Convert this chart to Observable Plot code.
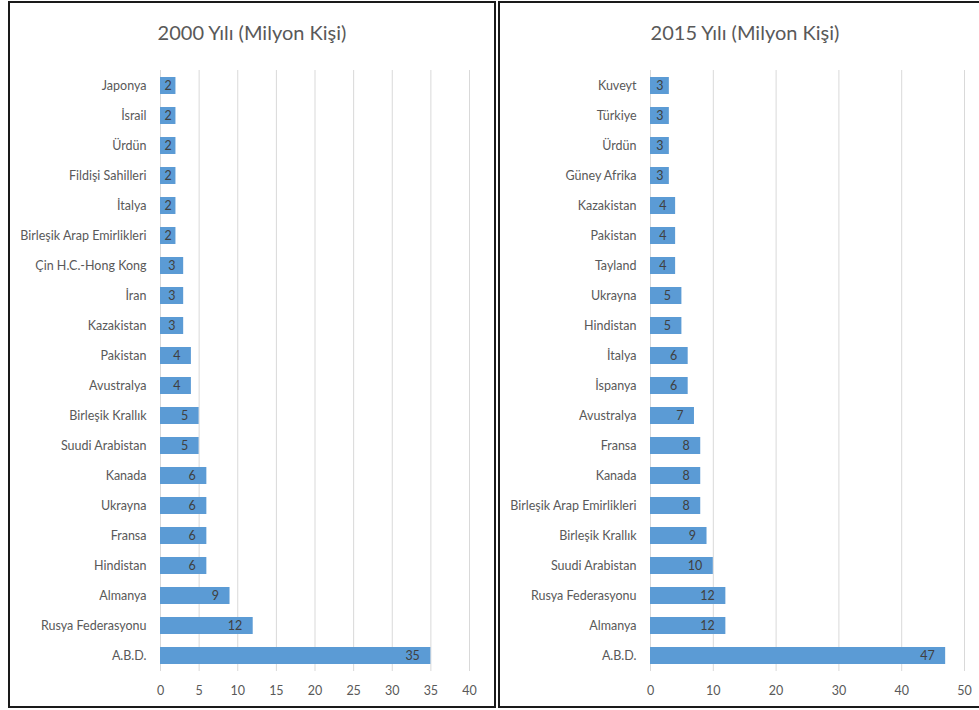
<!DOCTYPE html>
<html><head><meta charset="utf-8">
<script src="https://cdn.jsdelivr.net/npm/d3@7"></script>
<script src="https://cdn.jsdelivr.net/npm/@observablehq/plot@0.6"></script>
<style>
html,body{margin:0;padding:0;background:#fff;width:979px;height:710px;overflow:hidden;font-family:Lato,"Open Sans",sans-serif;}
.panel{position:absolute;top:1px;height:703px;border:2px solid #1a1a1a;background:#fff;box-sizing:content-box;}
.title{position:absolute;left:0;right:0;top:17px;text-align:center;font-size:20px;color:#595959;font-weight:400;}
.chart{position:absolute;left:0;top:49px;}
</style></head><body>
<div class="panel" id="p1" style="left:8px;width:484px;"><div class="title">2000 Yılı (Milyon Kişi)</div><div class="chart" id="c1"></div></div>
<div class="panel" id="p2" style="left:498px;width:490px;"><div class="title">2015 Yılı (Milyon Kişi)</div><div class="chart" id="c2"></div></div>
<script>
const countries2000 = ["Japonya","İsrail","Ürdün","Fildişi Sahilleri","İtalya","Birleşik Arap Emirlikleri","Çin H.C.-Hong Kong","İran","Kazakistan","Pakistan","Avustralya","Birleşik Krallık","Suudi Arabistan","Kanada","Ukrayna","Fransa","Hindistan","Almanya","Rusya Federasyonu","A.B.D."];
const values2000 = [2,2,2,2,2,2,3,3,3,4,4,5,5,6,6,6,6,9,12,35];
const ticks2000 = [0,5,10,15,20,25,30,35,40];

const countries2015 = ["Kuveyt","Türkiye","Ürdün","Güney Afrika","Kazakistan","Pakistan","Tayland","Ukrayna","Hindistan","İtalya","İspanya","Avustralya","Fransa","Kanada","Birleşik Arap Emirlikleri","Birleşik Krallık","Suudi Arabistan","Rusya Federasyonu","Almanya","A.B.D."];
const values2015 = [3,3,3,3,4,4,4,5,5,6,6,7,8,8,8,9,10,12,12,47];
const ticks2015 = [0,10,20,30,40,50];

function makeChart(names, vals, ticks, xmax, width, marginRight) {
  const data = names.map((n, i) => ({name: n, value: vals[i]}));
  const marginLeft = 150;
  const ppu = (width - marginLeft - marginRight) / xmax; // pixels per unit of the x scale
  // label anchor: inside end of bar, but kept centred-ish on short bars (as Excel does)
  const labelX = d => Math.max(d.value - 11 / ppu, d.value / 2 + 3.5 / ppu);
  return Plot.plot({
    width, height: 650,
    marginLeft, marginRight, marginTop: 18, marginBottom: 31,
    style: {fontFamily: "Lato, sans-serif", fontSize: "12.5px", color: "#595959", background: "#fff"},
    x: {domain: [0, xmax], ticks, tickSize: 0, tickPadding: 15, label: null},
    y: {domain: names, label: null, tickSize: 0, tickPadding: 14, paddingInner: 0.43, paddingOuter: 0.215},
    marks: [
      Plot.ruleX(ticks, {stroke: "#d9d9d9", strokeWidth: 1}),
      Plot.barX(data, {x: "value", y: "name", fill: "#5B9BD5"}),
      Plot.text(data, {x: labelX, y: "name", text: d => String(d.value), textAnchor: "end", fill: "#404040", fontSize: 12.5})
    ]
  });
}
document.getElementById("c1").appendChild(makeChart(countries2000, values2000, ticks2000, 40, 484, 25));
document.getElementById("c2").appendChild(makeChart(countries2015, values2015, ticks2015, 50, 486, 22));
</script>
</body></html>
